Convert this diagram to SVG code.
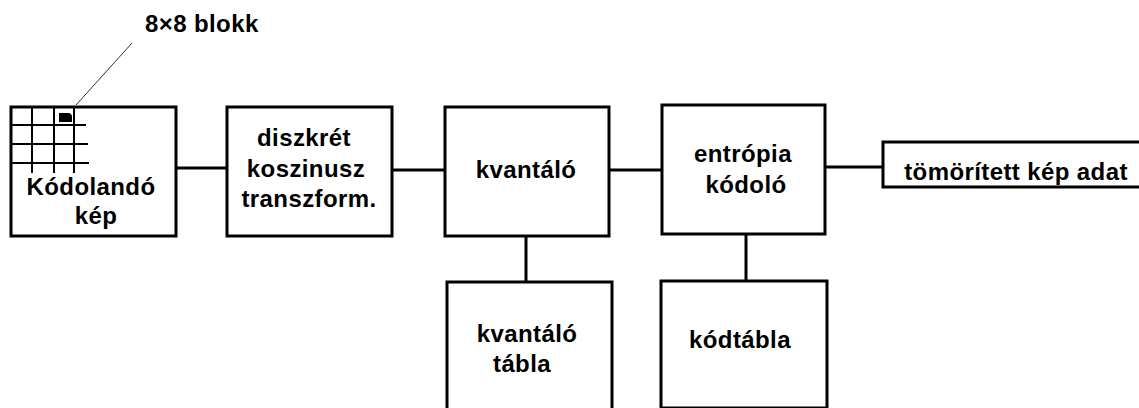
<svg xmlns="http://www.w3.org/2000/svg" width="1139" height="408" viewBox="0 0 1139 408">
<style>
.box{fill:#fff;stroke:#000;stroke-width:3}
.con{stroke:#000;stroke-width:3;fill:none}
.grid{stroke:#000;stroke-width:2;fill:none}
text{font-family:"Liberation Sans",Arial,sans-serif;font-weight:bold;font-size:24px;letter-spacing:0.4px;fill:#000;text-anchor:middle}
</style>
<rect width="1139" height="408" fill="#fff"/>
<g id="connectors">
<line class="con" x1="176" y1="168" x2="227" y2="168"/>
<line class="con" x1="392" y1="170" x2="445" y2="170"/>
<line class="con" x1="609" y1="170" x2="662" y2="170"/>
<line class="con" x1="825" y1="167" x2="883" y2="167"/>
<line class="con" x1="526" y1="236" x2="526" y2="282"/>
<line class="con" x1="746" y1="234" x2="746" y2="281"/>
<line x1="76" y1="105" x2="132" y2="43" stroke="#333" stroke-width="1"/>
</g>
<g id="n1">
<rect class="box" x="11" y="107" width="165" height="129"/>
<path class="grid" d="M32 107V173M54 107V173M74 107V173M11 125H86M11 144H88M11 163H89"/>
<path d="M59 113H68Q72 113 72 117V122H59Z" fill="#000"/>
<text x="91" y="195">Kódolandó</text>
<text x="96" y="224">kép</text>
</g>
<g id="label-blokk">
<text x="145" y="32" style="text-anchor:start">8×8 blokk</text>
</g>
<g id="n2">
<rect class="box" x="227" y="107" width="165" height="129"/>
<text x="304" y="146">diszkrét</text>
<text x="306" y="177">koszinusz</text>
<text x="309" y="207">transzform.</text>
</g>
<g id="n3">
<rect class="box" x="445" y="107" width="164" height="129"/>
<text x="526" y="178">kvantáló</text>
</g>
<g id="n4">
<rect class="box" x="662" y="105" width="163" height="129"/>
<text x="743" y="162">entrópia</text>
<text x="746" y="193">kódoló</text>
</g>
<g id="n5">
<rect class="box" x="883" y="142" width="258" height="45"/>
<text x="1016" y="180">tömörített kép adat</text>
</g>
<g id="n6">
<rect class="box" x="447" y="282" width="165" height="140"/>
<text x="527" y="342">kvantáló</text>
<text x="522" y="372">tábla</text>
</g>
<g id="n7">
<rect class="box" x="661" y="281" width="166" height="127"/>
<text x="740" y="348">kódtábla</text>
</g>
</svg>
